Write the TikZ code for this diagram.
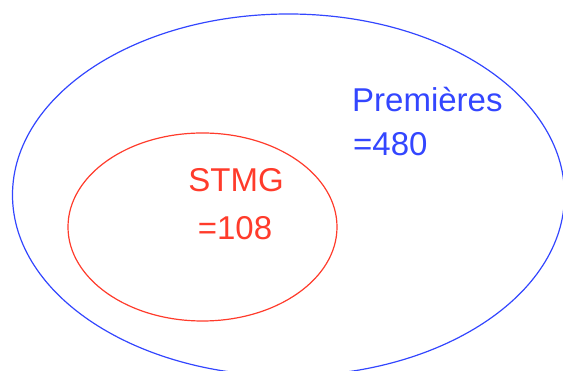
\documentclass[tikz,border=0pt]{standalone}
\usepackage{fontspec}
\setmainfont{Liberation Sans}
\usepackage{tikz}
\usetikzlibrary{positioning}
\definecolor{premc}{HTML}{3346FF}
\definecolor{stmgc}{HTML}{FF3B2B}
\tikzset{
  setline/.style={line width=1.2pt},
  lbl/.style={inner sep=0pt,font=\fontsize{33}{40}\selectfont}
}
\begin{document}
\begin{tikzpicture}[x=1pt,y=1pt]
\useasboundingbox (0,0) rectangle (563,371);
% ensembles
\draw[setline,premc] (288.5,176) ellipse [x radius=276pt,y radius=181pt];
\draw[setline,stmgc] (202.5,144) ellipse [x radius=134.5pt,y radius=94pt];
% effectifs
\node[lbl,premc,anchor=base west] (prem) at (352,259) {Premières};
\node[lbl,premc,anchor=base west] (premval) at (353,215) {=480};
\node[lbl,stmgc,anchor=base] (stmg) at (236,179) {STMG};
\node[lbl,stmgc,anchor=base] (stmgval) at (235,131) {=108};
\end{tikzpicture}
\end{document}
